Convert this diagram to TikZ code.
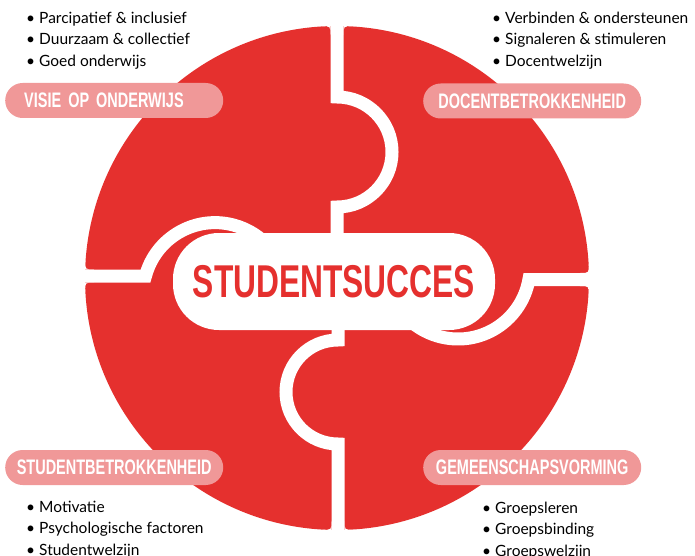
\documentclass[tikz,border=0pt]{standalone}
\usepackage{fontspec}
\setmainfont{Lato}
\newfontfamily\condfont[FakeStretch=0.69]{Liberation Sans}
\usetikzlibrary{positioning}
\definecolor{puzzlered}{RGB}{229,48,46}
\definecolor{tagpink}{RGB}{240,152,152}
\newcommand{\bul}{\makebox[13pt][l]{\textbullet}}
\newcommand{\fillet}[3]{\fill[white] #1 -- #2 -- #3 .. controls #2 .. #1 -- cycle;}

\begin{document}
\begin{tikzpicture}[x=1pt, y=-1pt,
    gap/.style={draw=white, line width=13pt},
    centre/.style={rectangle, fill=white, rounded corners=46pt, minimum width=322pt,
        minimum height=97pt, inner sep=0pt, text=puzzlered,
        font=\condfont\bfseries\fontsize{46}{46}\selectfont},
    tag/.style={rectangle, fill=tagpink, rounded corners=17.5pt, minimum height=35pt,
        text width=196pt, inner xsep=11pt, inner ysep=0pt, align=center, anchor=west,
        text=white, font=\condfont\bfseries\fontsize{21}{21}\selectfont},
    bullets/.style={align=left, inner sep=0pt, anchor=north west,
        font=\fontsize{15.5}{21.5}\selectfont}
]
\fill[white] (0,0) rectangle (695,556);
\useasboundingbox (0,0) rectangle (695,556);

\fill[puzzlered] (337,278) circle[radius=252];

\draw[gap] (337,15) -- (337,97) arc[start angle=-90, end angle=90, radius=55] -- (337,240);
\draw[gap] (338,325) -- (338,340) arc[start angle=-90, end angle=-270, radius=52] -- (338,540);
\draw[gap] (75,276) -- (145.5,276) arc[start angle=195, end angle=320, radius=72];
\draw[gap] (600,279.5) -- (528.9,279.5) arc[start angle=10, end angle=140, radius=72];

\fillet{(330.5,35.1)}{(330.5,26.1)}{(321.5,26.5)}
\fillet{(343.5,35.1)}{(343.5,26.1)}{(352.5,26.5)}
\fillet{(331.5,520.9)}{(331.5,529.9)}{(322.5,529.6)}
\fillet{(344.5,520.9)}{(344.5,529.9)}{(353.5,529.5)}
\fillet{(94.1,269.5)}{(85.1,269.5)}{(85.6,260.5)}
\fillet{(94,282.5)}{(85,282.5)}{(85.4,291.5)}
\fillet{(580,273)}{(589,273)}{(588.6,264)}
\fillet{(579.9,286)}{(588.9,286)}{(588.4,295)}

\node (Succes) [centre] at (334,281.5) {STUDENTSUCCES};

\node (VisieTag) [tag, text width=180pt, inner xsep=19pt, align=left] at (5,100.5) {VISIE OP ONDERWIJS};
\node (DocentTag) [tag] at (423,101) {DOCENTBETROKKENHEID};
\node (StudentTag) [tag] at (5,467.5) {STUDENTBETROKKENHEID};
\node (GroepTag) [tag] at (423,467.5) {GEMEENSCHAPSVORMING};

\node (VisieList) [bullets] at (26,11.5) {\bul Parcipatief \& inclusief\\ \bul Duurzaam \& collectief\\ \bul Goed onderwijs};
\node (DocentList) [bullets] at (492,11.5) {\bul Verbinden \& ondersteunen\\ \bul Signaleren \& stimuleren\\ \bul Docentwelzijn};
\node (StudentList) [bullets] at (26,500.5) {\bul Motivatie\\ \bul Psychologische factoren\\ \bul Studentwelzijn};
\node (GroepList) [bullets] at (482,501.5) {\bul Groepsleren\\ \bul Groepsbinding\\ \bul Groepswelzijn};
\end{tikzpicture}
\end{document}
